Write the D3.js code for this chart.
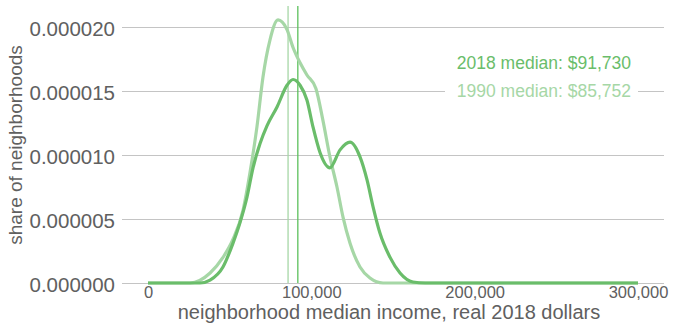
<!DOCTYPE html>
<html lang="en">
<head>
<meta charset="utf-8">
<script src="https://d3js.org/d3.v7.min.js"></script>
<style>
  body { margin: 0; background: #fff; }
  text { font-family: "Liberation Sans", Arial, sans-serif; }
</style>
</head>
<body>
<script>
// density of neighborhood median income (real 2018 dollars)
var income2018 = [0, 31800, 38000, 45900, 52000, 56300, 60600, 64300, 68600, 72900, 79000, 85100, 88800, 93100, 97300, 101000, 105300, 111400, 117600, 123700, 129800, 134100, 137800, 142000, 148200, 154300, 162200, 169600, 300000];
var density2018 = [0, 0, 0.23e-6, 1.25e-6, 3.1e-6, 4.7e-6, 6.7e-6, 9.0e-6, 10.9e-6, 12.3e-6, 13.75e-6, 15.45e-6, 15.9e-6, 15.45e-6, 14.3e-6, 12.2e-6, 10.2e-6, 9.0e-6, 10.4e-6, 11.0e-6, 9.85e-6, 8.05e-6, 5.95e-6, 3.9e-6, 2.0e-6, 0.78e-6, 0.08e-6, 0, 0];

var income1990 = [0, 25700, 38000, 45900, 52000, 58200, 62400, 66700, 70400, 74700, 79600, 85100, 88800, 93100, 97300, 102800, 107100, 111400, 115700, 119400, 123700, 129800, 135900, 143900, 151200, 300000];
var density1990 = [0, 0, 0.78e-6, 2.0e-6, 3.4e-6, 5.7e-6, 8.6e-6, 12.2e-6, 16.1e-6, 19.0e-6, 20.55e-6, 19.8e-6, 18.4e-6, 17.2e-6, 16.25e-6, 15.2e-6, 12.7e-6, 9.85e-6, 7.5e-6, 5.15e-6, 3.1e-6, 1.25e-6, 0.39e-6, 0, 0, 0];

var median2018 = 91730;
var median1990 = 85752;

var xTicks = [0, 100000, 200000, 300000];
var yTicks = [0, 0.000005, 0.00001, 0.000015, 0.00002];

var col2018 = "#6abd6a";
var col1990 = "#a6d7a6";

var W = 673, H = 328;
var svg = d3.select("body").append("svg")
  .attr("width", W)
  .attr("height", H);

var x = d3.scaleLinear().domain([0, 300000]).range([148, 638]);
var y = d3.scaleLinear().domain([0, 0.00002]).range([283, 27]);

// gridlines + y labels
var gy = svg.append("g")
  .attr("transform", "translate(122,0)")
  .call(d3.axisLeft(y).tickValues(yTicks).tickFormat(d3.format(".6f"))
    .tickSize(-542).tickPadding(7));
gy.select(".domain").remove();
gy.selectAll(".tick line").attr("stroke", "#c4c4c4").attr("stroke-width", 1.2);
gy.selectAll(".tick text")
  .attr("fill", "#606060")
  .style("font-size", "20.5px")
  .attr("dy", "0.42em");

// x axis labels
var gx = svg.append("g")
  .attr("transform", "translate(0,283)")
  .call(d3.axisBottom(x).tickValues(xTicks).tickFormat(d3.format(",")).tickSize(0).tickPadding(3));
gx.select(".domain").remove();
gx.selectAll(".tick text")
  .attr("fill", "#606060")
  .style("font-size", "16.5px");

// axis titles
svg.append("text")
  .attr("x", 389).attr("y", 319)
  .attr("text-anchor", "middle")
  .attr("fill", "#606060")
  .style("font-size", "20px")
  .text("neighborhood median income, real 2018 dollars");

svg.append("text")
  .attr("transform", "translate(22,145) rotate(-90)")
  .attr("text-anchor", "middle")
  .attr("fill", "#606060")
  .style("font-size", "19px")
  .text("share of neighborhoods");

// median lines
svg.append("line")
  .attr("x1", x(median1990)).attr("x2", x(median1990))
  .attr("y1", 6).attr("y2", 283)
  .attr("stroke", col1990).attr("stroke-width", 1.3);
svg.append("line")
  .attr("x1", x(median2018)).attr("x2", x(median2018))
  .attr("y1", 6).attr("y2", 283)
  .attr("stroke", "#5cc05c").attr("stroke-width", 1.3);

// density curves
var line = d3.line()
  .x(function (d) { return x(d[0]); })
  .y(function (d) { return y(d[1]); })
  .curve(d3.curveMonotoneX);

svg.append("path")
  .datum(d3.zip(income1990, density1990))
  .attr("fill", "none")
  .attr("stroke", col1990)
  .attr("stroke-width", 3.2)
  .attr("d", line);

svg.append("path")
  .datum(d3.zip(income2018, density2018))
  .attr("fill", "none")
  .attr("stroke", col2018)
  .attr("stroke-width", 3.2)
  .attr("d", line);

// legend labels
svg.append("rect")
  .attr("x", 445).attr("y", 84).attr("width", 193).attr("height", 14)
  .attr("fill", "#fff");

svg.append("text")
  .attr("x", 631).attr("y", 69)
  .attr("text-anchor", "end")
  .attr("fill", col2018)
  .style("font-size", "17.5px")
  .text("2018 median: $91,730");

svg.append("text")
  .attr("x", 631).attr("y", 97)
  .attr("text-anchor", "end")
  .attr("fill", col1990)
  .style("font-size", "17.5px")
  .text("1990 median: $85,752");
</script>
</body>
</html>
